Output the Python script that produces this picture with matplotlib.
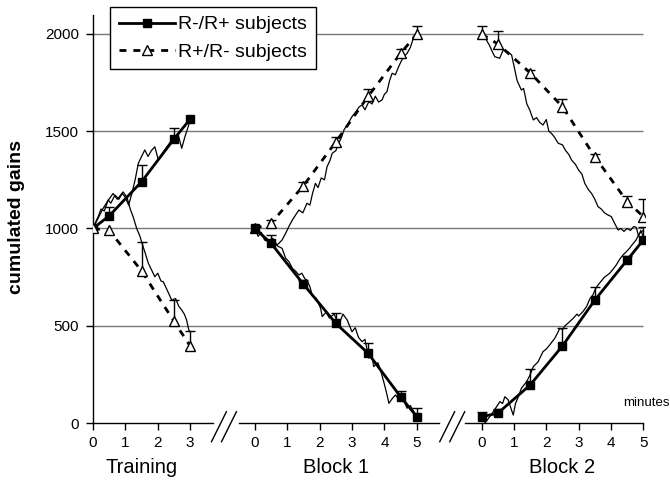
import matplotlib
matplotlib.use("Agg")
import matplotlib.pyplot as plt
import numpy as np

plt.rcParams['font.family'] = ['Liberation Sans', 'DejaVu Sans']

# ---- data -------------------------------------------------------------
panel_names = ["Training", "Block 1", "Block 2"]
panel_minutes = [[0, 1, 2, 3], [0, 1, 2, 3, 4, 5], [0, 1, 2, 3, 4, 5]]

# mean curves (minutes at which markers are drawn)
train_t = [0, 0.5, 1.5, 2.5, 3]
block_t = [0, 0.5, 1.5, 2.5, 3.5, 4.5, 5]

train_rmrp = [1000, 1065, 1240, 1460, 1562]
train_rmrp_err = [0, 45, 86, 58, 0]
train_rprm = [1000, 990, 782, 523, 396]
train_rprm_err = [0, 0, 150, 110, 76]

block1_rprm = [1000, 1027, 1220, 1445, 1680, 1900, 2000]
block1_rprm_err = [0, 15, 21, 26, 35, 21, 41]
block1_rmrp = [1000, 924, 713, 512, 358, 135, 33]
block1_rmrp_err = [0, 42, 22, 54, 53, 30, 46]

block2_rprm = [2000, 1949, 1801, 1626, 1369, 1138, 1061]
block2_rprm_err = [41, 66, 15, 38, 15, 31, 91]
block2_rmrp = [32, 50, 195, 396, 632, 838, 941]
block2_rmrp_err = [26, 22, 83, 92, 69, 20, 68]

# single-subject traces
train_up_t = [0, 0.1, 0.16, 0.25, 0.35, 0.47, 0.55, 0.68, 0.8, 0.9, 1.0, 1.1, 1.2, 1.3, 1.4,
              1.5, 1.6, 1.7, 1.8, 1.91, 2.02, 2.12, 2.22, 2.33, 2.43, 2.55, 2.65, 2.74, 2.84,
              2.94, 3.0]
train_up_y = [1000, 1040, 1061, 1100, 1090, 1147, 1130, 1172, 1150, 1180, 1160, 1120, 1180,
              1249, 1335, 1370, 1404, 1370, 1400, 1420, 1352, 1380, 1404, 1430, 1455, 1440,
              1470, 1412, 1472, 1523, 1558]
train_dn_t = [0, 0.15, 0.3, 0.45, 0.62, 0.75, 0.93, 1.05, 1.15, 1.24, 1.35, 1.45, 1.5, 1.6,
              1.71, 1.8, 1.91, 2.0, 2.1, 2.17, 2.3, 2.43, 2.55, 2.65, 2.74, 2.82, 2.89, 2.96, 3.0]
train_dn_y = [1000, 1050, 1100, 1140, 1180, 1150, 1188, 1160, 1100, 1060, 1000, 960, 932, 880,
              821, 790, 752, 770, 730, 726, 680, 632, 640, 600, 581, 560, 530, 478, 470]

block1_up_t = [0, 0.15, 0.3, 0.45, 0.6, 0.72, 0.84, 0.95, 1.05, 1.16, 1.26, 1.36, 1.48, 1.61,
               1.7, 1.78, 1.87, 1.95, 2.05, 2.15, 2.23, 2.32, 2.39, 2.5, 2.59, 2.68, 2.75, 2.88,
               3.0, 3.12, 3.22, 3.31, 3.4, 3.52, 3.62, 3.72, 3.82, 3.93, 4.0, 4.08, 4.16, 4.24,
               4.34, 4.44, 4.52, 4.6, 4.7, 4.8, 4.91, 5.0]
block1_up_y = [1000, 975, 950, 925, 910, 920, 941, 975, 1010, 1044, 1070, 1095, 1080, 1130,
               1120, 1180, 1232, 1210, 1260, 1250, 1318, 1350, 1387, 1400, 1438, 1470, 1506,
               1540, 1575, 1600, 1625, 1635, 1610, 1652, 1640, 1680, 1650, 1661, 1690, 1703,
               1760, 1798, 1790, 1832, 1860, 1883, 1900, 1930, 1986, 2000]
block1_dn_t = [0, 0.1, 0.2, 0.3, 0.43, 0.55, 0.7, 0.84, 0.95, 1.05, 1.16, 1.26, 1.36, 1.45,
               1.55, 1.61, 1.7, 1.77, 1.9, 2.03, 2.08, 2.2, 2.3, 2.45, 2.59, 2.72, 2.85, 3.0,
               3.1, 3.2, 3.31, 3.4, 3.52, 3.6, 3.67, 3.8, 3.9, 3.98, 4.06, 4.14, 4.24, 4.34,
               4.45, 4.55, 4.7, 4.8, 4.9, 5.0]
block1_dn_y = [1000, 960, 980, 940, 932, 950, 910, 898, 847, 830, 795, 780, 761, 770, 740,
               735, 700, 658, 640, 590, 547, 570, 540, 560, 504, 560, 530, 469, 490, 440, 418,
               430, 333, 360, 290, 310, 260, 212, 160, 101, 125, 144, 120, 135, 76, 90, 60, 33]

block2_dn_t = [0, 0.08, 0.15, 0.25, 0.33, 0.41, 0.56, 0.67, 0.8, 0.93, 1.03, 1.1, 1.23, 1.3,
               1.4, 1.49, 1.6, 1.7, 1.8, 1.9, 2.0, 2.08, 2.16, 2.25, 2.37, 2.5, 2.6, 2.7, 2.78,
               2.9, 3.0, 3.1, 3.19, 3.3, 3.4, 3.5, 3.6, 3.7, 3.8, 3.9, 4.01, 4.1, 4.22, 4.3,
               4.4, 4.5, 4.6, 4.7, 4.78, 4.85, 4.92, 5.0]
block2_dn_y = [2000, 1985, 1969, 1940, 1910, 1883, 1875, 1918, 1910, 1892, 1815, 1760, 1712,
               1720, 1640, 1609, 1558, 1570, 1545, 1532, 1560, 1500, 1489, 1470, 1438, 1430,
               1400, 1380, 1352, 1330, 1300, 1280, 1232, 1200, 1180, 1150, 1112, 1100, 1080,
               1070, 1061, 1030, 992, 1000, 985, 1000, 990, 1010, 1006, 960, 990, 958]
block2_up_t = [0.1, 0.2, 0.36, 0.45, 0.57, 0.65, 0.72, 0.82, 0.9, 0.98, 1.05, 1.15, 1.23,
               1.39, 1.48, 1.54, 1.6, 1.75, 1.82, 1.9, 2.0, 2.1, 2.26, 2.34, 2.42, 2.5, 2.58,
               2.67, 2.83, 2.95, 3.0, 3.13, 3.25, 3.35, 3.44, 3.52, 3.6, 3.7, 3.8, 3.96, 4.06,
               4.16, 4.26, 4.37, 4.47, 4.57, 4.67, 4.77, 4.88, 5.0]
block2_up_y = [0, 20, 58, 80, 110, 100, 135, 120, 80, 41, 100, 140, 178, 212, 240, 264, 290,
               315, 340, 367, 380, 400, 435, 460, 487, 480, 500, 513, 538, 560, 550, 572, 600,
               640, 658, 690, 710, 730, 750, 770, 790, 812, 840, 864, 880, 898, 920, 940, 975,
               990]

yticks = [0, 500, 1000, 1500, 2000]

# ---- layout -----------------------------------------------------------
offsets = [0, 5, 12]
fig = plt.figure(figsize=(6.7, 4.82), dpi=100)
ax = fig.add_axes([0.1388, 0.1224, 0.8239, 0.8475])
ax.set_xlim(0, 17.05)
ax.set_ylim(0, 2100)

for s in ['top', 'right', 'bottom']:
    ax.spines[s].set_visible(False)
ax.spines['left'].set_linewidth(1)

ax.hlines([v for v in yticks if v > 0], 0, 17, color='#777777', lw=1, zorder=1)

sq = dict(color='black', lw=2, marker='s', markersize=5.5, zorder=5)
tri = dict(color='black', lw=2, ls=(0, (2.5, 2.5)), marker='^', markersize=7,
           markerfacecolor='white', markeredgecolor='black', markeredgewidth=1, zorder=5)


def upper_err(x, y, e):
    x = np.asarray(x, float)
    y = np.asarray(y, float)
    e = np.asarray(e, float)
    k = e > 0
    ax.vlines(x[k], y[k], y[k] + e[k], color='black', lw=1, zorder=4)
    ax.plot(x[k], y[k] + e[k], ls='none', marker='_', markersize=7, mew=1,
            color='black', zorder=4)


# thin individual traces
for off, t, y in [(0, train_up_t, train_up_y), (0, train_dn_t, train_dn_y),
                  (5, block1_up_t, block1_up_y), (5, block1_dn_t, block1_dn_y),
                  (12, block2_dn_t, block2_dn_y), (12, block2_up_t, block2_up_y)]:
    ax.plot(np.asarray(t) + off, y, color='black', lw=0.9, zorder=3)

# means
tt = np.asarray(train_t)
bt = np.asarray(block_t)
upper_err(tt, train_rmrp, train_rmrp_err)
upper_err(tt, train_rprm, train_rprm_err)
upper_err(bt + 5, block1_rprm, block1_rprm_err)
upper_err(bt + 5, block1_rmrp, block1_rmrp_err)
upper_err(bt + 12, block2_rprm, block2_rprm_err)
upper_err(bt + 12, block2_rmrp, block2_rmrp_err)

h1, = ax.plot(tt, train_rmrp, label='R-/R+ subjects', **sq)
h2, = ax.plot(tt, train_rprm, label='R+/R- subjects', **tri)
ax.plot(bt + 5, block1_rprm, **tri)
ax.plot(bt + 5, block1_rmrp, **sq)
ax.plot(bt + 12, block2_rprm, **tri)
ax.plot(bt + 12, block2_rmrp, **sq)

# broken x axis
for a, b in [(0, 3.7), (4.5, 10.7), (11.5, 17)]:
    ax.plot([a, b], [0, 0], color='black', lw=1, clip_on=False, zorder=6)
for x0 in [3.66, 3.97, 10.71, 11.02]:
    ax.plot([x0, x0 + 0.46], [-96, 58], color='black', lw=1, clip_on=False, zorder=6)

ticks = []
labels = []
for off, mins in zip(offsets, panel_minutes):
    for m in mins:
        ticks.append(off + m)
        labels.append(str(m))
ax.set_xticks(ticks)
ax.set_xticklabels(labels, fontsize=11)
ax.tick_params(axis='x', direction='out', length=5, width=1, pad=4)
ax.set_yticks(yticks)
ax.set_yticklabels([str(v) for v in yticks], fontsize=11)
ax.tick_params(axis='y', direction='out', length=5, width=1, pad=5)

centers = [1.5, 7.5, 14.5]
for c, name in zip(centers, panel_names):
    ax.text(c, -0.108, name, transform=ax.get_xaxis_transform(), ha='center',
            va='center', fontsize=14.5)

ax.text(16.36, 103, 'minutes', fontsize=9.5, va='center', ha='left')
fig.text(17 / 670, 1 - 217 / 482, 'cumulated gains', rotation=90, ha='center',
         va='center', fontsize=14, fontweight='bold')

leg = ax.legend(handles=[h1, h2], loc='upper left', bbox_to_anchor=(110 / 670, 1 - 7 / 482),
                bbox_transform=fig.transFigure, borderaxespad=0, fontsize=14,
                handlelength=2.9, handletextpad=0.15, labelspacing=0.5, borderpad=0.45,
                fancybox=False, framealpha=1, edgecolor='black')
leg.get_frame().set_linewidth(1)
leg.set_zorder(10)

fig.savefig('out.png', dpi=100)
